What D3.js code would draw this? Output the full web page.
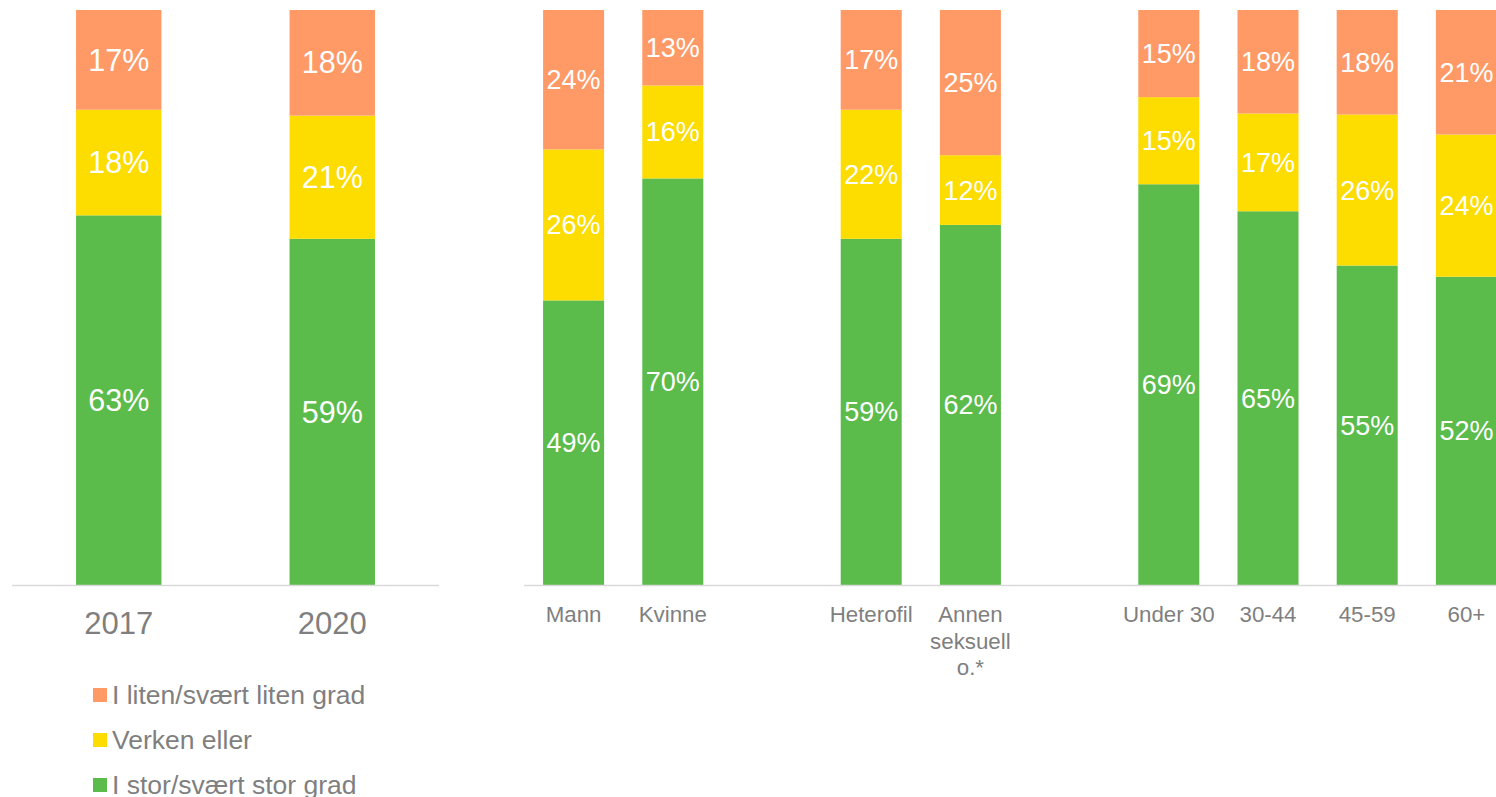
<!DOCTYPE html>
<html>
<head>
<meta charset="utf-8">
<script src="https://cdn.jsdelivr.net/npm/d3@7/dist/d3.min.js"></script>
<style>
  html, body { margin: 0; padding: 0; background: #fff; }
  svg { display: block; font-family: "Liberation Sans", Arial, sans-serif; }
</style>
</head>
<body>
<svg id="chart" width="1496" height="797"></svg>
<script>
// ---- Data ----
const seriesNames = ["I stor/svært stor grad", "Verken eller", "I liten/svært liten grad"];
const seriesColors = ["#5BBB4B", "#FDDC00", "#FF9966"];

const leftCategories = ["2017", "2020"];
const leftStor    = [63, 59];
const leftVerken  = [18, 21];
const leftLiten   = [17, 18];

// null = empty gap slot
const rightCategories = ["Mann", "Kvinne", null, "Heterofil", "Annen seksuell o.*", null, "Under 30", "30-44", "45-59", "60+"];
const rightStor   = [49, 70, null, 59, 62, null, 69, 65, 55, 52];
const rightVerken = [26, 16, null, 22, 12, null, 15, 17, 26, 24];
const rightLiten  = [24, 13, null, 17, 25, null, 15, 18, 18, 21];

const legendOrder = [2, 1, 0];

// ---- Drawing ----
const svg = d3.select("#chart");
const plotTop = 10, plotBase = 585;
const y = d3.scaleLinear().domain([0, 1]).range([plotBase, plotTop]);

function buildRows(cats, s0, s1, s2) {
  return cats.map((c, i) => ({ idx: i, cat: c, v: [s0[i], s1[i], s2[i]] }))
             .filter(d => d.cat !== null);
}

function drawPanel(opts) {
  const { cats, s0, s1, s2, x0, x1, padding, labelSize, axisSize, axisY, wrapWidth } = opts;
  const x = d3.scaleBand().domain(d3.range(cats.length)).range([x0, x1]).paddingInner(padding).paddingOuter(padding / 2);
  const rows = buildRows(cats, s0, s1, s2);
  const stack = d3.stack().keys([0, 1, 2]).value((d, k) => d.v[k] / d3.sum(d.v));
  const layers = stack(rows);
  const g = svg.append("g");

  layers.forEach((layer, k) => {
    g.selectAll(null).data(layer).enter().append("rect")
      .attr("x", d => x(d.data.idx))
      .attr("width", x.bandwidth())
      .attr("y", d => y(d[1]))
      .attr("height", d => y(d[0]) - y(d[1]))
      .attr("fill", seriesColors[k]);
    g.selectAll(null).data(layer).enter().append("text")
      .attr("x", d => x(d.data.idx) + x.bandwidth() / 2)
      .attr("y", d => (y(d[0]) + y(d[1])) / 2)
      .attr("dy", "0.35em")
      .attr("text-anchor", "middle")
      .attr("fill", "#fff")
      .attr("font-size", labelSize)
      .text(d => d.data.v[k] + "%");
  });

  // axis baseline
  g.append("line")
    .attr("x1", x0).attr("x2", x1)
    .attr("y1", plotBase + 0.5).attr("y2", plotBase + 0.5)
    .attr("stroke", "#D9D9D9").attr("stroke-width", 1.5);

  // category labels (wrapped)
  rows.forEach(d => {
    const cx = x(d.idx) + x.bandwidth() / 2;
    const t = g.append("text")
      .attr("x", cx)
      .attr("y", axisY)
      .attr("text-anchor", "middle")
      .attr("fill", "#7F7F7F")
      .attr("font-size", axisSize);
    const words = d.cat.split(" ");
    let lines = [], line = [];
    const probe = t.append("tspan");
    words.forEach(w => {
      const test = line.concat([w]).join(" ");
      probe.text(test);
      if (probe.node().getComputedTextLength() > wrapWidth && line.length) {
        lines.push(line.join(" "));
        line = [w];
      } else line.push(w);
    });
    lines.push(line.join(" "));
    probe.remove();
    lines.forEach((l, i) => {
      t.append("tspan")
        .attr("x", cx)
        .attr("dy", i === 0 ? "0.35em" : "1.2em")
        .text(l);
    });
  });
}

drawPanel({ cats: leftCategories, s0: leftStor, s1: leftVerken, s2: leftLiten,
  x0: 12, x1: 439, padding: 0.6, labelSize: 30.5, axisSize: 31, axisY: 623, wrapWidth: 200 });

drawPanel({ cats: rightCategories, s0: rightStor, s1: rightVerken, s2: rightLiten,
  x0: 524, x1: 1516, padding: 0.385, labelSize: 27, axisSize: 22.3, axisY: 614, wrapWidth: 99 });

// legend
const legend = svg.append("g");
legendOrder.forEach((k, i) => {
  const cy = 695 + i * 45;
  legend.append("rect").attr("x", 93).attr("y", cy - 7).attr("width", 14).attr("height", 14).attr("fill", seriesColors[k]);
  legend.append("text").attr("x", 112).attr("y", cy).attr("dy", "0.35em")
    .attr("fill", "#7F7F7F").attr("font-size", 26.5).text(seriesNames[k]);
});
</script>
</body>
</html>
